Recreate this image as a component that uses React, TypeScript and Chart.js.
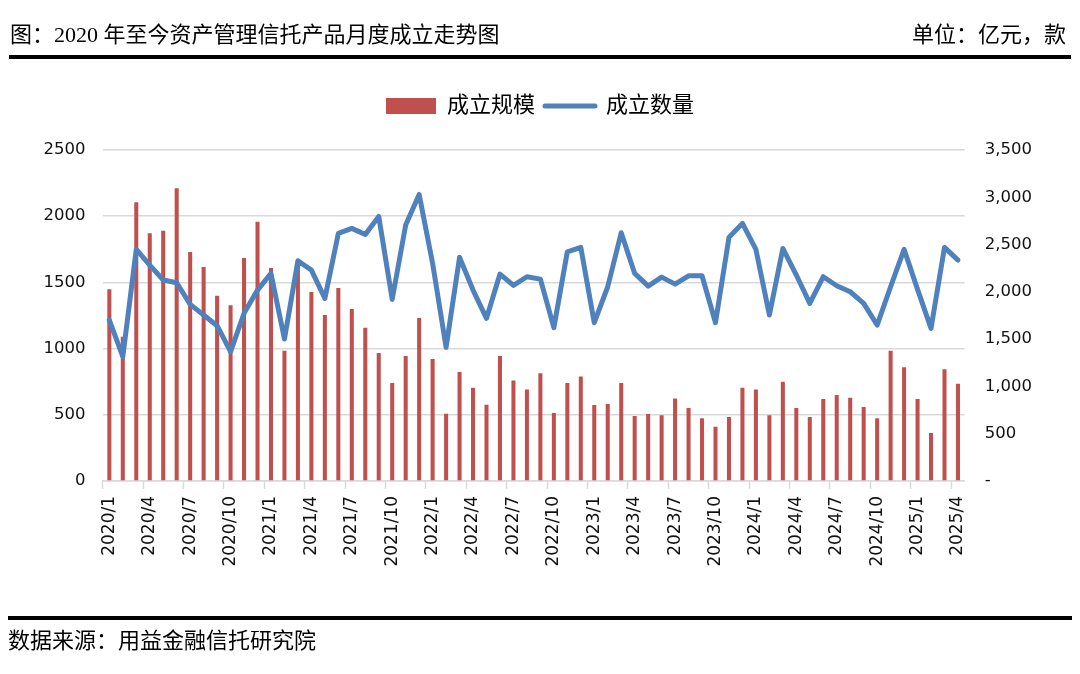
import { useEffect, useRef } from 'react';
import { Chart, registerables } from 'chart.js';

Chart.register(...registerables);

const categories = [
  '2020/1', '2020/2', '2020/3', '2020/4', '2020/5', '2020/6', '2020/7', '2020/8', '2020/9', '2020/10', '2020/11', '2020/12',
  '2021/1', '2021/2', '2021/3', '2021/4', '2021/5', '2021/6', '2021/7', '2021/8', '2021/9', '2021/10', '2021/11', '2021/12',
  '2022/1', '2022/2', '2022/3', '2022/4', '2022/5', '2022/6', '2022/7', '2022/8', '2022/9', '2022/10', '2022/11', '2022/12',
  '2023/1', '2023/2', '2023/3', '2023/4', '2023/5', '2023/6', '2023/7', '2023/8', '2023/9', '2023/10', '2023/11', '2023/12',
  '2024/1', '2024/2', '2024/3', '2024/4', '2024/5', '2024/6', '2024/7', '2024/8', '2024/9', '2024/10', '2024/11', '2024/12',
  '2025/1', '2025/2', '2025/3', '2025/4',
];

// 成立规模（亿元）
const scaleValues = [
  1448, 1090, 2105, 1871, 1891, 2211, 1730, 1616, 1400, 1327, 1684, 1959,
  1609, 984, 1640, 1427, 1254, 1458, 1299, 1158, 967, 740, 944, 1231,
  921, 508, 823, 705, 576, 944, 760, 692, 813, 514, 740, 790,
  574, 582, 740, 491, 506, 496, 624, 551, 473, 410, 483, 705,
  692, 496, 750, 551, 483, 619, 650, 629, 559, 473, 984, 859,
  619, 362, 844, 735,
];

// 成立数量（款）
const countValues = [
  1702, 1314, 2449, 2283, 2125, 2096, 1868, 1755, 1642, 1367, 1773, 2019,
  2195, 1501, 2329, 2230, 1931, 2618, 2671, 2607, 2797, 1920, 2706, 3030,
  2301, 1413, 2365, 2019, 1720, 2188, 2068, 2160, 2135, 1621, 2424, 2470,
  1674, 2054, 2625, 2195, 2061, 2156, 2082, 2170, 2170, 1674, 2576, 2724,
  2449, 1755, 2459, 2178, 1878, 2160, 2065, 2001, 1878, 1649, 2054, 2449,
  2026, 1614, 2470, 2336,
];

const seriesNames = ['成立规模', '成立数量'];
const leftTicks = [0, 500, 1000, 1500, 2000, 2500];
const rightTicks = [0, 500, 1000, 1500, 2000, 2500, 3000, 3500];

const titleText = '图：2020 年至今资产管理信托产品月度成立走势图';
const unitText = '单位：亿元，款';
const sourceText = '数据来源：用益金融信托研究院';

const BAR_COLOR = '#C0504D';
const LINE_COLOR = '#4F81BD';
const GRID_COLOR = '#d9d9d9';
const CJK_SERIF = '"Liberation Serif", "Noto Sans CJK SC", serif';
const TICK_FONT = '"DejaVu Sans", sans-serif';

export default function App() {
  const canvasRef = useRef<HTMLCanvasElement | null>(null);

  useEffect(() => {
    const canvas = canvasRef.current;
    if (!canvas) return;

    const legendGap = {
      id: 'legendGap',
      beforeInit(chart: any) {
        const legend = chart.legend;
        if (!legend) return;
        const originalFit = legend.fit;
        legend.fit = function fit() {
          originalFit.call(this);
          this.height += 23;
        };
      },
    };

    const chart = new Chart(canvas, {
      type: 'bar',
      data: {
        labels: categories,
        datasets: [
          {
            type: 'bar',
            label: seriesNames[0],
            data: scaleValues,
            backgroundColor: BAR_COLOR,
            borderWidth: 0,
            barPercentage: 0.3,
            categoryPercentage: 1,
            yAxisID: 'y',
            order: 2,
          },
          {
            type: 'line',
            label: seriesNames[1],
            data: countValues,
            borderColor: LINE_COLOR,
            backgroundColor: LINE_COLOR,
            borderWidth: 5,
            pointRadius: 0,
            pointHoverRadius: 0,
            tension: 0,
            borderJoinStyle: 'round',
            borderCapStyle: 'round',
            fill: false,
            yAxisID: 'y1',
            order: 1,
          } as any,
        ],
      },
      options: {
        animation: false,
        responsive: false,
        maintainAspectRatio: false,
        events: [],
        layout: { padding: { top: 85, left: 0, right: 0, bottom: 0 } },
        plugins: {
          tooltip: { enabled: false },
          title: { display: false },
          legend: {
            display: true,
            position: 'top',
            labels: {
              usePointStyle: true,
              pointStyleWidth: 50,
              boxHeight: 16,
              padding: 10,
              color: '#000',
              font: { size: 22, family: CJK_SERIF },
              generateLabels: () => [
                {
                  text: seriesNames[0],
                  fillStyle: BAR_COLOR,
                  strokeStyle: BAR_COLOR,
                  lineWidth: 0,
                  pointStyle: 'rect',
                  datasetIndex: 0,
                  hidden: false,
                  fontColor: '#000',
                } as any,
                {
                  text: seriesNames[1],
                  fillStyle: LINE_COLOR,
                  strokeStyle: LINE_COLOR,
                  lineWidth: 5,
                  lineCap: 'round',
                  pointStyle: 'line',
                  datasetIndex: 1,
                  hidden: false,
                  fontColor: '#000',
                } as any,
              ],
            },
          },
        },
        scales: {
          x: {
            type: 'category',
            offset: true,
            grid: {
              display: true,
              offset: true,
              drawOnChartArea: false,
              drawTicks: true,
              tickLength: 8,
              tickWidth: 1.5,
              tickColor: (ctx: any) => (ctx.index % 3 === 0 ? GRID_COLOR : 'rgba(0,0,0,0)'),
            },
            border: { display: true, color: GRID_COLOR, width: 1.5 },
            ticks: {
              autoSkip: false,
              minRotation: 90,
              maxRotation: 90,
              padding: 7,
              color: '#111',
              font: { size: 17, family: TICK_FONT },
              callback: (_v: any, i: number) => (i % 3 === 0 ? categories[i] : ''),
            },
            afterFit: (scale: any) => {
              scale.height = 193;
            },
          },
          y: {
            type: 'linear',
            position: 'left',
            min: leftTicks[0],
            max: leftTicks[leftTicks.length - 1],
            afterBuildTicks: (scale: any) => {
              scale.ticks = leftTicks.map((v) => ({ value: v }));
            },
            grid: { color: GRID_COLOR, lineWidth: 1.5, drawTicks: false },
            border: { display: false },
            ticks: {
              padding: 17,
              color: '#111',
              font: { size: 16.5, family: TICK_FONT },
              callback: (v: any) => String(v),
            },
            afterFit: (scale: any) => {
              scale.width = 102.6;
            },
          },
          y1: {
            type: 'linear',
            position: 'right',
            min: rightTicks[0],
            max: rightTicks[rightTicks.length - 1],
            afterBuildTicks: (scale: any) => {
              scale.ticks = rightTicks.map((v) => ({ value: v }));
            },
            grid: { display: false, drawOnChartArea: false, drawTicks: false },
            border: { display: false },
            ticks: {
              padding: 20,
              color: '#111',
              font: { size: 16.5, family: TICK_FONT },
              callback: (v: any) => (Number(v) === 0 ? '-' : Number(v).toLocaleString('en-US')),
            },
            afterFit: (scale: any) => {
              scale.width = 115.3;
            },
          },
        },
      },
      plugins: [legendGap],
    } as any);

    return () => {
      chart.destroy();
    };
  }, []);

  const textStyle: React.CSSProperties = {
    position: 'absolute',
    fontFamily: CJK_SERIF,
    fontSize: 22,
    lineHeight: '26px',
    color: '#000',
    whiteSpace: 'nowrap',
  };

  return (
    <div style={{ position: 'absolute', left: 0, top: 0, width: 1080, height: 674, background: '#fff', overflow: 'hidden' }}>
      <canvas ref={canvasRef} width={1080} height={674} style={{ position: 'absolute', left: 0, top: 0, width: 1080, height: 674 }} />
      <div style={{ ...textStyle, left: 10, top: 22 }}>{titleText}</div>
      <div style={{ ...textStyle, right: 14, top: 22 }}>{unitText}</div>
      <div style={{ position: 'absolute', left: 9, width: 1062, top: 55, height: 4, background: '#000' }} />
      <div style={{ position: 'absolute', left: 8, width: 1064, top: 616, height: 4, background: '#000' }} />
      <div style={{ ...textStyle, left: 8, top: 628 }}>{sourceText}</div>
    </div>
  );
}
